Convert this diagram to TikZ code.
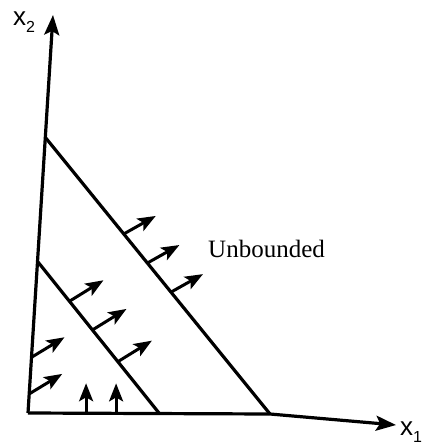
\documentclass[tikz,border=0pt]{standalone}
\usepackage{fontspec}
\setmainfont{Liberation Serif}
\newfontfamily\axisfont{Liberation Sans}
\usetikzlibrary{arrows.meta,calc}
\newcommand{\axlab}[1]{x\raisebox{-0.5ex}{\fontsize{16}{18}\selectfont #1}}

\begin{document}
\begin{tikzpicture}[x=1pt,y=-1pt,
  ax/.style={-{Stealth[length=20pt,width=15pt,inset=4pt]},line width=3.2pt},
  bd/.style={line width=3.2pt},
  ar/.style={-{Stealth[length=18pt,width=14pt,inset=4pt]},line width=3pt},
  lbl/.style={font=\axisfont\fontsize{26}{28}\selectfont,inner sep=0pt}]
\useasboundingbox (0,0) rectangle (428,445);
% axes
\coordinate (O) at (28,413);
\coordinate (ytip) at (53,15);
\coordinate (xbend) at (270,414);
\coordinate (xtip) at (396,425);
\draw[ax] (O) -- (ytip);
\draw[ax] (O) -- (xbend) -- (xtip);
\node[lbl] (x2) at (24,22) {\axlab{2}};
\node[lbl] (x1) at (411,432) {\axlab{1}};
% boundary lines
\coordinate (L1a) at (38,262);
\coordinate (L1b) at (159,413);
\coordinate (L2a) at (45,137);
\coordinate (L2b) at (270,414);
\draw[bd] (L1a) -- (L1b);
\draw[bd] (L2a) -- (L2b);
% feasible direction arrows
\foreach \t in {0.26,0.45,0.66}
  \draw[ar] ($(L1a)!\t!(L1b)$) -- ++(34,-21);
\foreach \t in {0.35,0.455,0.56}
  \draw[ar] ($(L2a)!\t!(L2b)$) -- ++(32,-18);
\foreach \t in {0.048,0.14}
  \draw[ar] ($(O)!\t!(ytip)$) -- ++(33,-20);
\foreach \t in {0.24,0.364}
  \draw[ar] ($(O)!\t!(xbend)$) -- ++(0,-30);
\node[font=\fontsize{25}{30}\selectfont,anchor=base west,inner sep=0pt] (unb) at (208,257) {Unbounded};
\end{tikzpicture}
\end{document}
